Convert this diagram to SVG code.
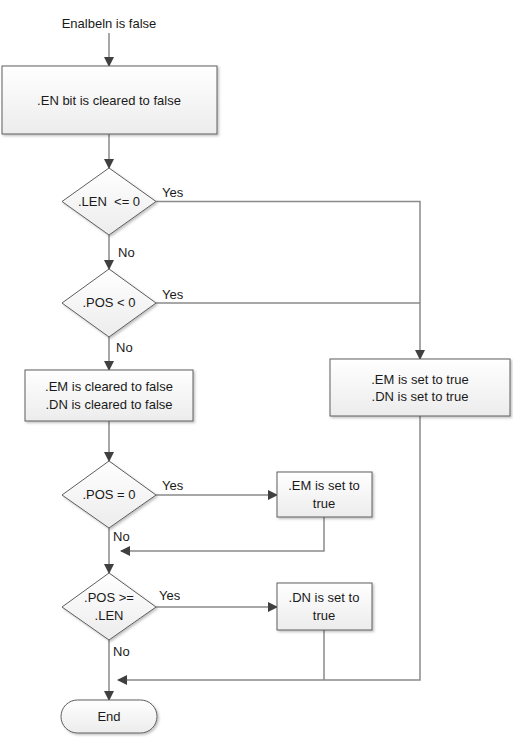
<svg xmlns="http://www.w3.org/2000/svg" width="513" height="737" viewBox="0 0 513 737">
<defs>
<linearGradient id="g" x1="0" y1="0" x2="0" y2="1">
<stop offset="0" stop-color="#ffffff"/>
<stop offset="1" stop-color="#ececec"/>
</linearGradient>
<filter id="sh" x="-10%" y="-10%" width="130%" height="130%">
<feDropShadow dx="1.5" dy="1.5" stdDeviation="1" flood-color="#000" flood-opacity="0.25"/>
</filter>
<marker id="ah" markerWidth="10" markerHeight="10" refX="9" refY="5" orient="auto" markerUnits="userSpaceOnUse">
<path d="M0,0 L10,5 L0,10 Z" fill="#404040"/>
</marker>
</defs>
<style>
.shape{fill:url(#g);stroke:#5e5e5e;stroke-width:1;filter:url(#sh)}
.con{fill:none;stroke:#8a8a8a;stroke-width:1.5}
.arr{marker-end:url(#ah)}
text{font-family:"Liberation Sans",Arial,sans-serif;font-size:13px;fill:#1a1a1a}
.c{text-anchor:middle}
</style>
<rect width="513" height="737" fill="#ffffff"/>
<text class="c" x="109" y="28">Enalbeln is false</text>
<g id="connectors">
<path class="con arr" d="M109,33 L109,66"/>
<path class="con arr" d="M109,134 L109,168"/>
<path class="con arr" d="M109,235 L109,269"/>
<path class="con arr" d="M109,337 L109,370"/>
<path class="con arr" d="M109,421 L109,461"/>
<path class="con arr" d="M109,528 L109,573"/>
<path class="con arr" d="M109,640 L109,700"/>
<path class="con arr" d="M156,201.5 L420,201.5 L420,359"/>
<path class="con" d="M156,303 L420,303"/>
<path class="con arr" d="M156,495 L277,495"/>
<path class="con arr" d="M324,517 L324,551 L121,551"/>
<path class="con arr" d="M156,607 L277,607"/>
<path class="con" d="M324,630 L324,680"/>
<path class="con arr" d="M420,416 L420,680 L118,680"/>
<text x="162" y="197">Yes</text>
<text x="118" y="257">No</text>
<text x="162" y="299">Yes</text>
<text x="116" y="352">No</text>
<text x="162" y="490">Yes</text>
<text x="113" y="541">No</text>
<text x="159" y="600">Yes</text>
<text x="113" y="656">No</text>
</g>
<g id="n1"><rect class="shape" x="2" y="66" width="215" height="68"/><text class="c" x="109" y="105">.EN bit is cleared to false</text></g>
<g id="d1"><polygon class="shape" points="109,168 156,201.5 109,235 62,201.5"/><text class="c" x="109" y="206">.LEN&#160; &lt;= 0</text></g>
<g id="d2"><polygon class="shape" points="109,269 156,303 109,337 62,303"/><text class="c" x="109" y="307">.POS &lt; 0</text></g>
<g id="n2"><rect class="shape" x="25" y="370" width="168" height="51"/><text class="c" x="109" y="391">.EM is cleared to false</text><text class="c" x="109" y="409">.DN is cleared to false</text></g>
<g id="n3"><rect class="shape" x="330" y="359" width="180" height="57"/><text class="c" x="420" y="384">.EM is set to true</text><text class="c" x="420" y="401">.DN is set to true</text></g>
<g id="d3"><polygon class="shape" points="109,461 156,495 109,528 62,495"/><text class="c" x="109" y="499">.POS = 0</text></g>
<g id="n4"><rect class="shape" x="277" y="472" width="95" height="45"/><text class="c" x="324" y="490">.EM is set to</text><text class="c" x="324" y="508">true</text></g>
<g id="d4"><polygon class="shape" points="109,573 156,607 109,640 62,607"/><text class="c" x="109" y="602">.POS &gt;=</text><text class="c" x="109" y="620">.LEN</text></g>
<g id="n5"><rect class="shape" x="277" y="583" width="95" height="47"/><text class="c" x="324" y="602">.DN is set to</text><text class="c" x="324" y="620">true</text></g>
<g id="end"><rect class="shape" x="61" y="700" width="96" height="33" rx="16.5" ry="16.5"/><text class="c" x="109" y="721">End</text></g>
</svg>
